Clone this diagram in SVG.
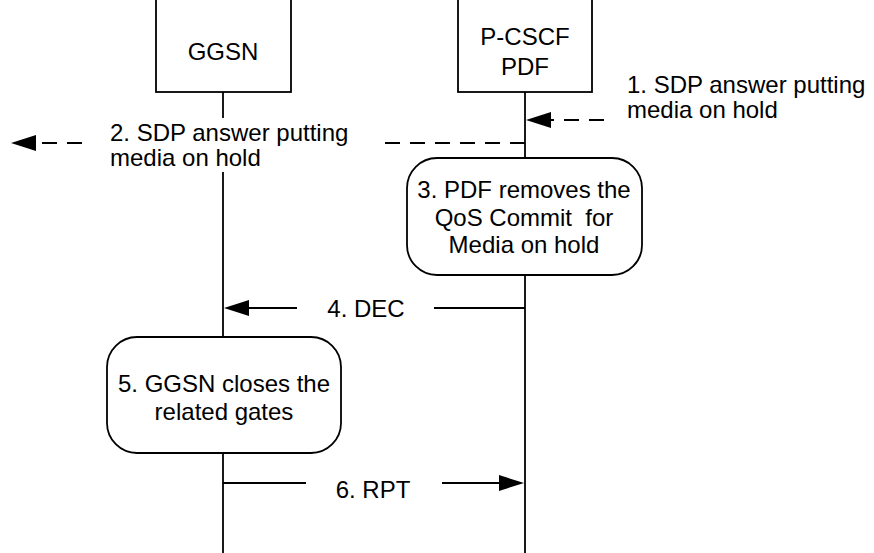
<svg xmlns="http://www.w3.org/2000/svg" width="874" height="553" viewBox="0 0 874 553">
<style>
text{font-family:"Liberation Sans",Arial,sans-serif;font-size:24px;fill:#000}
.c{text-anchor:middle}
.ln{stroke:#000;stroke-width:1.8;fill:none}
.d{stroke-dasharray:15,10}
.box{fill:#fff;stroke:#000;stroke-width:1.8}
.ah{fill:#000}
</style>
<rect width="874" height="553" fill="#fff"/>
<g id="lifelines">
<line class="ln" x1="223" y1="92" x2="223" y2="118"/>
<line class="ln" x1="223" y1="172" x2="223" y2="337"/>
<line class="ln" x1="223" y1="453" x2="223" y2="553"/>
<line class="ln" x1="525" y1="92" x2="525" y2="158"/>
<line class="ln" x1="525" y1="275" x2="525" y2="553"/>
</g>
<g id="ggsn">
<rect class="box" x="156" y="-3" width="135" height="95"/>
<text class="c" x="223" y="60">GGSN</text>
</g>
<g id="pcscf">
<rect class="box" x="458" y="-3" width="134" height="95"/>
<text class="c" x="525" y="45">P-CSCF</text>
<text class="c" x="525" y="75">PDF</text>
</g>
<g id="step3">
<rect class="box" x="407" y="158" width="235" height="117" rx="30" ry="30"/>
<text class="c" x="524" y="198">3. PDF removes the</text>
<text class="c" x="524" y="226" xml:space="preserve">QoS Commit  for</text>
<text class="c" x="524" y="253">Media on hold</text>
</g>
<g id="step5">
<rect class="box" x="107" y="337" width="234" height="116" rx="30" ry="30"/>
<text class="c" x="224" y="392">5. GGSN closes the</text>
<text class="c" x="224" y="420">related gates</text>
</g>
<g id="connectors">
<line class="ln d" x1="604" y1="120" x2="550" y2="120"/>
<polygon class="ah" points="526,120 551,112 551,128"/>
<line class="ln d" x1="525" y1="143" x2="385" y2="143"/>
<line class="ln d" x1="82" y1="143" x2="34" y2="143"/>
<polygon class="ah" points="11,143 36,135 36,151"/>
<line class="ln" x1="525" y1="308" x2="434" y2="308"/>
<line class="ln" x1="297" y1="308" x2="246" y2="308"/>
<polygon class="ah" points="224,308 249,300 249,316"/>
<line class="ln" x1="223" y1="483" x2="306" y2="483"/>
<line class="ln" x1="442" y1="483" x2="502" y2="483"/>
<polygon class="ah" points="524,483 499,475 499,491"/>
</g>
<g id="labels">
<text x="627" y="93">1. SDP answer putting</text>
<text x="627" y="118">media on hold</text>
<text x="110" y="141">2. SDP answer putting</text>
<text x="110" y="166">media on hold</text>
<text class="c" x="366" y="317">4. DEC</text>
<text class="c" x="373" y="498">6. RPT</text>
</g>
</svg>
